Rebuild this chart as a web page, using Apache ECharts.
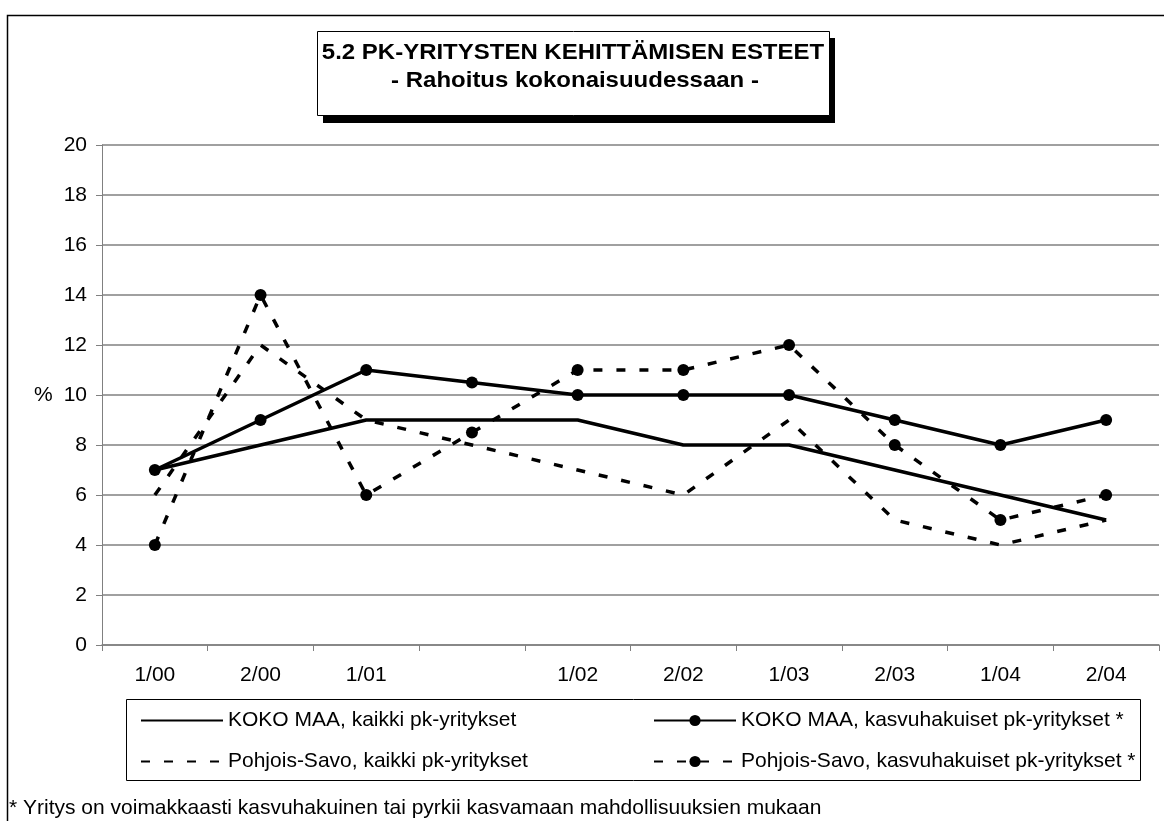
<!DOCTYPE html>
<html>
<head>
<meta charset="utf-8">
<script src="https://cdn.jsdelivr.net/npm/echarts@6/dist/echarts.min.js"></script>
<style>html,body{margin:0;padding:0;background:#fff;}#c{width:1164px;height:821px;}</style>
</head>
<body>
<div id="c"></div>
<script>
const categories = ['1/00','2/00','1/01','','1/02','2/02','1/03','2/03','1/04','2/04'];
const kokoMaaKaikki = [7, 8, 9, 9, 9, 8, 8, 7, 6, 5];
const kokoMaaKasvu = [7, 9, 11, 10.5, 10, 10, 10, 9, 8, 9];
const psKaikki = [6, 12, 9, 8, 7, 6, 9, 5, 4, 5];
const psKasvu = [4, 14, 6, 8.5, 11, 11, 12, 8, 5, 6];
const seriesNames = [
  'KOKO MAA, kaikki pk-yritykset',
  'KOKO MAA, kasvuhakuiset pk-yritykset *',
  'Pohjois-Savo, kaikki pk-yritykset',
  'Pohjois-Savo, kasvuhakuiset pk-yritykset *'
];
const yTicks = {min: 0, max: 20, interval: 2};

const FONT = 'Liberation Sans, Arial, sans-serif';
const FS = 21;
const chart = echarts.init(document.getElementById('c'), null, {renderer: 'canvas'});

function mkSeries(name, data, dashed, markers) {
  return {
    name: name, type: 'line', data: data,
    symbol: markers ? 'circle' : 'none',
    showSymbol: markers,
    symbolSize: 12,
    itemStyle: {color: '#000'},
    lineStyle: {color: '#000', width: 3.5, type: dashed ? [9, 14] : 'solid', cap: 'butt'},
    animation: false
  };
}
function mkLegend(name, left, top, markers) {
  return {
    data: [name], left: left, top: top, selectedMode: false,
    itemWidth: 82, itemHeight: 14, itemGap: 0,
    itemStyle: markers ? {} : {opacity: 0},
    textStyle: {fontFamily: FONT, fontSize: FS, color: '#000', padding: [0,0,0,0]}
  };
}

chart.setOption({
  backgroundColor: '#fff',
  animation: false,
  grid: {left: 102, right: 5, top: 145, bottom: 176, containLabel: false},
  xAxis: {
    type: 'category', data: categories, boundaryGap: true,
    axisLine: {lineStyle: {color: '#808080', width: 1.5}},
    axisTick: {show: true, interval: 0, length: 6, lineStyle: {color: '#808080'}},
    axisLabel: {interval: 0, color: '#000', fontFamily: FONT, fontSize: FS, margin: 20},
    splitLine: {show: false}
  },
  yAxis: {
    type: 'value', min: yTicks.min, max: yTicks.max, interval: yTicks.interval,
    axisLine: {show: true, lineStyle: {color: '#808080', width: 1}},
    axisTick: {show: true, length: 6, lineStyle: {color: '#808080'}},
    axisLabel: {color: '#000', fontFamily: FONT, fontSize: FS, margin: 15},
    splitLine: {show: true, lineStyle: {color: '#808080', width: 1.5}}
  },
  legend: [
    mkLegend(seriesNames[0], 135, 705, false),
    mkLegend(seriesNames[1], 648, 705, true),
    mkLegend(seriesNames[2], 135, 746, false),
    mkLegend(seriesNames[3], 648, 746, true)
  ],
  series: [
    mkSeries(seriesNames[0], kokoMaaKaikki, false, false),
    mkSeries(seriesNames[1], kokoMaaKasvu, false, true),
    mkSeries(seriesNames[2], psKaikki, true, false),
    mkSeries(seriesNames[3], psKasvu, true, true)
  ],
  graphic: [
    {type: 'rect', shape: {x: 7.5, y: 15.5, width: 1180, height: 830}, style: {fill: 'none', stroke: '#000', lineWidth: 1.5}, z: 0},
    {type: 'rect', shape: {x: 323, y: 38, width: 512, height: 85}, style: {fill: '#000'}, z: 1},
    {type: 'rect', shape: {x: 317.5, y: 31.5, width: 512, height: 84}, style: {fill: '#fff', stroke: '#000', lineWidth: 1}, z: 2},
    {type: 'text', x: 573, y: 53, scaleX: 1.09, style: {text: '5.2 PK-YRITYSTEN KEHITTÄMISEN ESTEET', font: 'bold 22px ' + FONT, fill: '#000', textAlign: 'center', textVerticalAlign: 'middle'}, z: 3},
    {type: 'text', x: 575, y: 81, scaleX: 1.09, style: {text: '- Rahoitus kokonaisuudessaan -', font: 'bold 22px ' + FONT, fill: '#000', textAlign: 'center', textVerticalAlign: 'middle'}, z: 3},
    {type: 'text', x: 34, y: 395, style: {text: '%', font: FS + 'px ' + FONT, fill: '#000', textAlign: 'left', textVerticalAlign: 'middle'}, z: 3},
    {type: 'rect', shape: {x: 126.5, y: 699.5, width: 1014, height: 81}, style: {fill: 'none', stroke: '#000', lineWidth: 1}, z: 0},
    {type: 'text', x: 9, y: 808, style: {text: '* Yritys on voimakkaasti kasvuhakuinen tai pyrkii kasvamaan mahdollisuuksien mukaan', font: FS + 'px ' + FONT, fill: '#000', textAlign: 'left', textVerticalAlign: 'middle'}, z: 3}
  ]
});
</script>
</body>
</html>
